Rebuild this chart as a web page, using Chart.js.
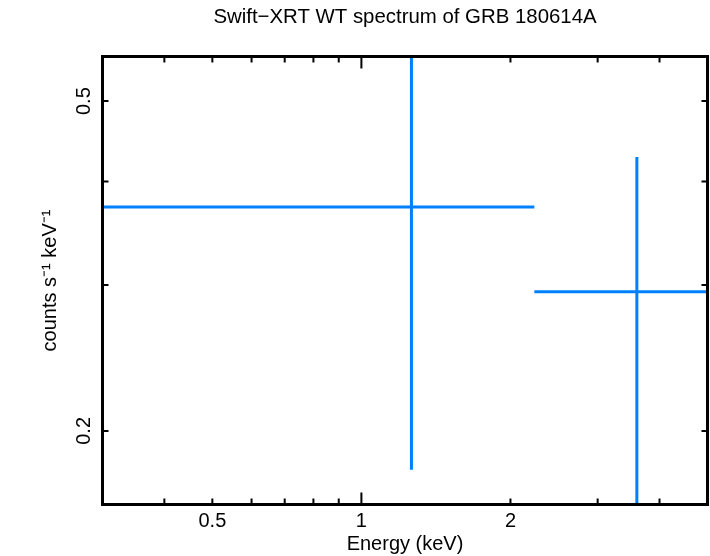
<!DOCTYPE html>
<html>
<head>
<meta charset="utf-8">
<script src="https://cdn.jsdelivr.net/npm/chart.js@4.4.1/dist/chart.umd.min.js"></script>
<style>
  html, body { margin: 0; padding: 0; background: #fff; }
  #wrap { width: 710px; height: 556px; }
</style>
</head>
<body>
<div id="wrap"><canvas id="spec"></canvas></div>
<script>
// Dữ liệu phổ
var binLo  = [0.3, 2.235];
var binHi  = [2.235, 5.0];
var energy = [1.262, 3.6];
var rate   = [0.3725, 0.2944];
var rateLo = [0.1795, 0.15];
var rateHi = [0.62, 0.428];

// Trục
var xRange = [0.3, 5];
var yRange = [0.163, 0.566];
var xTickLabels = [0.5, 1, 2];
var xMinorTicks = [0.4, 0.5, 0.6, 0.7, 0.8, 0.9, 2, 3, 4];
var xMajorTicks = [1];
var yTickLabels = [0.2, 0.5];
var yMinorTicks = [0.2, 0.3, 0.4, 0.5];

var blue = '#0080ff';
var fontFam = '"Liberation Sans", Arial, Helvetica, sans-serif';

// Mỗi thanh sai số = 2 đoạn thẳng (ngang + dọc)
var datasets = [];
energy.forEach(function (e, i) {
    datasets.push({
        data: [{ x: binLo[i], y: rate[i] }, { x: binHi[i], y: rate[i] }],
        borderColor: blue, borderWidth: 3, pointRadius: 0, showLine: true
    });
    datasets.push({
        data: [{ x: e, y: rateLo[i] }, { x: e, y: rateHi[i] }],
        borderColor: blue, borderWidth: 3, pointRadius: 0, showLine: true
    });
});

// Khung + vạch chia hướng vào trong, trên cả bốn cạnh
var framePlugin = {
    id: 'frame',
    afterDatasetsDraw: function (chart) {
        var ctx = chart.ctx, a = chart.chartArea;
        var xs = chart.scales.x, ys = chart.scales.y;
        ctx.save();
        ctx.strokeStyle = '#000';
        ctx.lineWidth = 2;
        function xt(v, len) {
            var px = xs.getPixelForValue(v);
            ctx.beginPath();
            ctx.moveTo(px, a.bottom); ctx.lineTo(px, a.bottom - len);
            ctx.moveTo(px, a.top); ctx.lineTo(px, a.top + len);
            ctx.stroke();
        }
        xMinorTicks.forEach(function (v) { xt(v, 6); });
        xMajorTicks.forEach(function (v) { xt(v, 12); });
        yMinorTicks.forEach(function (v) {
            var py = ys.getPixelForValue(v);
            ctx.beginPath();
            ctx.moveTo(a.left, py); ctx.lineTo(a.left + 6, py);
            ctx.moveTo(a.right, py); ctx.lineTo(a.right - 6, py);
            ctx.stroke();
        });
        ctx.lineWidth = 3;
        ctx.strokeRect(a.left, a.top, a.right - a.left, a.bottom - a.top);
        ctx.restore();
    }
};

var ctx = document.getElementById('spec').getContext('2d');
new Chart(ctx, {
    type: 'scatter',
    data: { datasets: datasets },
    plugins: [framePlugin],
    options: {
        responsive: true,
        maintainAspectRatio: false,
        animation: false,
        layout: { padding: { left: 0, right: 2.5, top: 0, bottom: 0 } },
        plugins: { legend: { display: false }, tooltip: { enabled: false } },
        scales: {
            x: {
                type: 'logarithmic', position: 'bottom',
                min: xRange[0], max: xRange[1],
                afterBuildTicks: function (s) { s.ticks = xTickLabels.map(function (v) { return { value: v }; }); },
                afterFit: function (s) { s.height = 51.5; },
                grid: { display: false, drawTicks: false },
                border: { display: false },
                ticks: {
                    padding: 5, color: '#000', maxRotation: 0, autoSkip: false,
                    font: { family: fontFam, size: 20 },
                    callback: function (v) { return String(v); }
                },
                title: {
                    display: true, text: 'Energy (keV)', color: '#000',
                    font: { family: fontFam, size: 20 }, padding: { top: 0, bottom: 0 }
                }
            },
            x2: {
                type: 'logarithmic', position: 'top',
                min: xRange[0], max: xRange[1],
                afterFit: function (s) { s.height = 56.5; },
                grid: { display: false, drawTicks: false },
                border: { display: false },
                ticks: { display: false },
                title: {
                    display: true, text: 'Swift\u2212XRT WT spectrum of GRB 180614A', color: '#000',
                    font: { family: fontFam, size: 20.4 }, padding: { top: 5, bottom: 0 }
                }
            },
            y: {
                type: 'logarithmic', position: 'left',
                min: yRange[0], max: yRange[1],
                afterBuildTicks: function (s) { s.ticks = yTickLabels.map(function (v) { return { value: v }; }); },
                afterFit: function (s) { s.width = 102.5; },
                grid: { display: false, drawTicks: false },
                border: { display: false },
                ticks: {
                    padding: 4, color: '#000', minRotation: 90, maxRotation: 90,
                    crossAlign: 'center', autoSkip: false,
                    font: { family: fontFam, size: 20 },
                    callback: function (v) { return String(v); }
                },
                title: {
                    display: true, text: 'counts s\u207B\u00B9 keV\u207B\u00B9', color: '#000',
                    font: { family: fontFam, size: 20 }, padding: { top: 38, bottom: 0 }
                }
            }
        }
    }
});
</script>
</body>
</html>
